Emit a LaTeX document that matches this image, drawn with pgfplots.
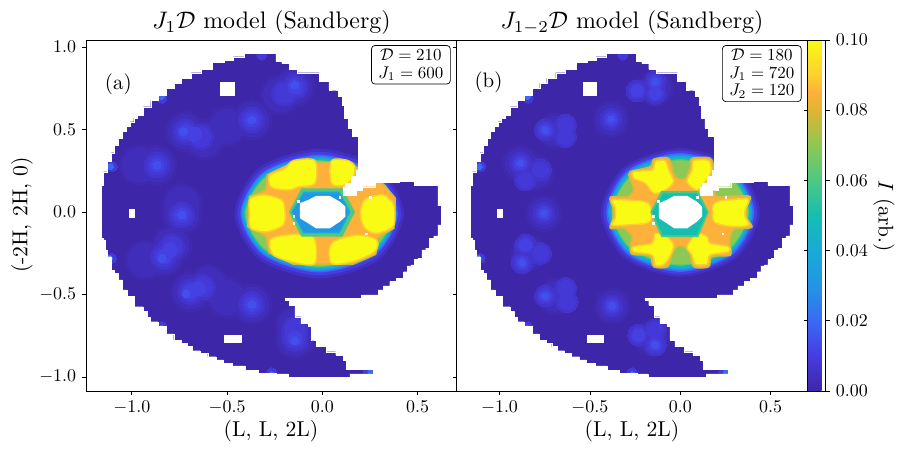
\documentclass[border=0pt]{standalone}
\usepackage{pgfplots}
\usepackage{pgfplotstable}
\pgfplotsset{compat=1.18}
\definecolor{base}{RGB}{62,38,168}
\definecolor{cA}{RGB}{65,47,191}
\definecolor{cB}{RGB}{70,60,225}
\definecolor{cC}{RGB}{58,106,245}
\definecolor{cD}{RGB}{34,150,228}
\definecolor{cE}{RGB}{24,170,216}
\definecolor{cF}{RGB}{22,190,175}
\definecolor{cG}{RGB}{78,200,130}
\definecolor{cH}{RGB}{140,200,85}
\definecolor{cO}{RGB}{205,190,55}
\definecolor{cI}{RGB}{253,176,58}
\definecolor{cK}{RGB}{252,208,46}
\definecolor{cJ}{RGB}{249,251,21}
\definecolor{bA}{RGB}{63,41,175}
\definecolor{bB}{RGB}{64,45,185}
\definecolor{bC}{RGB}{66,51,202}
\definecolor{bD}{RGB}{68,56,215}
\definecolor{bE}{RGB}{69,64,226}
\definecolor{bF}{RGB}{66,80,235}
\pgfplotsset{colormap={parulaish}{
 rgb255(0mm)=(62,38,168); rgb255(10mm)=(70,60,225); rgb255(20mm)=(58,106,245);
 rgb255(30mm)=(34,150,228); rgb255(40mm)=(24,170,216); rgb255(50mm)=(22,190,175);
 rgb255(60mm)=(78,200,130); rgb255(70mm)=(140,200,85); rgb255(80mm)=(225,180,50);
 rgb255(85mm)=(253,176,58); rgb255(90mm)=(252,208,46); rgb255(100mm)=(249,251,21)}}
\newcommand\ringS[2]{\addplot[draw=none,fill=#1,smooth cycle,forget plot] coordinates {#2};}
\newcommand\yel[1]{\addplot[draw=cK,line width=1.5bp,fill=cJ,smooth cycle,forget plot] coordinates {#1};}
\newcommand\poly[2]{\addplot[draw=none,fill=#1,forget plot] coordinates {#2};}
\newcommand\blob[3]{\addplot[only marks,color=#1,mark=*,mark size=#2,mark options={draw=#1,fill=#1,line width=0pt},forget plot] coordinates {#3};}
\newcommand\blobT[3]{\addplot[only marks,color=#1,mark=*,mark size=#2,mark options={draw=#1,fill=#1,line width=0pt},forget plot] table[x=x,y=y] {#3};}
% blob centres
\pgfplotstableread[row sep=\\]{x y\\ -0.144 0.760\\ -0.220 0.710\\ -0.370 0.558\\ -0.719 0.487\\ -0.620 0.440\\ -0.868 0.285\\ -0.960 0.285\\ -0.737 -0.018\\ -0.737 0.050\\ -0.833 -0.271\\ -0.790 -0.200\\ -0.693 -0.483\\ -0.600 -0.440\\ -0.370 -0.560\\ -0.144 -0.766\\ -0.144 -0.690\\ -0.500 0.520\\ -0.500 -0.520\\ -0.930 -0.290\\}\wideA
\pgfplotstableread[row sep=\\]{x y\\ -0.144 0.760\\ -0.200 0.720\\ -0.370 0.558\\ -0.719 0.487\\ -0.640 0.455\\ -0.868 0.285\\ -0.737 -0.018\\ -0.833 -0.271\\ -0.790 -0.210\\ -0.693 -0.483\\ -0.630 -0.455\\ -0.370 -0.560\\ -0.144 -0.766\\ -0.144 -0.710\\}\coreA
\pgfplotstableread[row sep=\\]{x y\\ -0.138 0.750\\ -0.383 0.562\\ -0.690 0.490\\ -0.884 0.295\\ -0.800 0.240\\ -0.755 -0.008\\ -0.840 -0.250\\ -0.690 -0.510\\ -0.377 -0.570\\ -0.160 -0.760\\}\wideB
\pgfplotstableread[row sep=\\]{x y\\ -0.138 0.790\\ -0.239 0.733\\ -0.138 0.719\\ -0.383 0.562\\ -0.746 0.497\\ -0.635 0.527\\ -0.635 0.457\\ -0.884 0.295\\ -0.773 0.255\\ -0.856 0.194\\ -0.755 -0.008\\ -0.875 -0.307\\ -0.856 -0.200\\ -0.773 -0.251\\ -0.746 -0.509\\ -0.635 -0.463\\ -0.626 -0.544\\ -0.377 -0.570\\ -0.138 -0.806\\ -0.230 -0.746\\ -0.138 -0.715\\}\coreB
% outside of the measured region: frame, seam and outline
\pgfplotstableread[row sep=\\]{x y\\
-1.238 0.164\\ -1.160 0.164\\ -1.139 0.244\\ -1.118 0.305\\ -1.100 0.359\\ -1.081 0.406\\ -1.060 0.447\\ -1.041 0.487\\ -1.020 0.517\\ -0.999 0.547\\ -0.982 0.568\\ -0.959 0.588\\ -0.920 0.638\\ -0.882 0.675\\ -0.842 0.709\\ -0.798 0.750\\ -0.758 0.780\\ -0.720 0.810\\ -0.659 0.844\\ -0.615 0.865\\ -0.537 0.905\\ -0.496 0.921\\ -0.437 0.941\\ -0.380 0.962\\ -0.258 0.962\\ -0.231 0.911\\ -0.196 0.901\\ -0.153 0.865\\ -0.109 0.844\\ -0.036 0.844\\ 0.004 0.790\\ 0.065 0.739\\ 0.104 0.699\\ 0.104 0.648\\ 0.127 0.568\\ 0.144 0.507\\ 0.167 0.461\\ 0.187 0.461\\ 0.187 0.255\\ 0.167 0.214\\ 0.135 0.174\\ 0.109 0.153\\ 0.109 0.103\\ 0.179 0.103\\ 0.179 0.133\\ 0.240 0.153\\ 0.318 0.178\\ 0.484 0.184\\ 0.484 0.164\\ 0.606 0.164\\ 0.606 0.042\\ 0.624 0.042\\ 0.624 -0.079\\ 0.606 -0.079\\ 0.606 -0.145\\ 0.563 -0.159\\ 0.563 -0.220\\ 0.522 -0.230\\ 0.522 -0.281\\ 0.484 -0.287\\ 0.484 -0.321\\ 0.446 -0.327\\ 0.446 -0.362\\ 0.406 -0.402\\ 0.371 -0.422\\ 0.336 -0.448\\ 0.301 -0.473\\ 0.284 -0.503\\ 0.205 -0.503\\ 0.205 -0.523\\ -0.196 -0.523\\ -0.196 -0.533\\ -0.153 -0.564\\ -0.135 -0.635\\ -0.092 -0.675\\ -0.057 -0.695\\ -0.057 -0.776\\ -0.004 -0.816\\ 0.048 -0.847\\ 0.092 -0.867\\ 0.127 -0.897\\ 0.127 -0.953\\ 0.266 -0.953\\ 0.266 -0.982\\ 0.144 -0.982\\ 0.144 -1.002\\ -0.179 -1.002\\ -0.179 -0.982\\ -0.301 -0.978\\ -0.371 -0.958\\ -0.441 -0.933\\ -0.502 -0.917\\ -0.537 -0.897\\ -0.580 -0.877\\ -0.624 -0.857\\ -0.659 -0.841\\ -0.703 -0.816\\ -0.720 -0.796\\ -0.763 -0.776\\ -0.798 -0.739\\ -0.842 -0.695\\ -0.886 -0.665\\ -0.920 -0.638\\ -0.920 -0.604\\ -0.964 -0.574\\ -1.008 -0.513\\ -1.043 -0.473\\ -1.060 -0.412\\ -1.083 -0.372\\ -1.100 -0.352\\ -1.118 -0.271\\ -1.139 -0.230\\ -1.143 -0.170\\ -1.160 -0.159\\ -1.160 0.164\\ -1.238 0.164\\ -1.238 -1.085\\ 0.704 -1.085\\ 0.704 1.042\\ -1.238 1.042\\ -1.238 0.164\\
}\maskpts
\newcommand\holes{%
 \addplot[const plot mark mid,draw=white,line width=0.3bp,fill=white,forget plot] table[x=x,y=y] {\maskpts};
 \poly{white}{(-0.537,0.790)(-0.458,0.790)(-0.458,0.703)(-0.537,0.703)}
 \poly{white}{(-0.516,-0.745)(-0.420,-0.745)(-0.420,-0.796)(-0.516,-0.796)}
 \poly{white}{(-1.013,0.018)(-0.982,0.018)(-0.982,-0.036)(-1.013,-0.036)}
 \poly{white}{(-0.034,0.097)(0.039,0.097)(0.092,0.062)(0.121,0.032)(0.121,-0.028)(0.092,-0.059)(0.039,-0.099)(-0.034,-0.099)(-0.074,-0.069)(-0.118,-0.038)(-0.118,0.053)(-0.074,0.073)}
}
\newcommand\edgespots{%
 \blob{bD}{5bp}{(-0.842,0.689)(-1.103,0.275)(-1.107,-0.281)(-0.842,-0.695)(-0.266,-0.974)(-0.318,0.951)(0.240,-0.968)}
 \blob{cC}{3bp}{(-0.845,0.700)(-1.112,0.275)(-1.117,-0.281)(-0.845,-0.705)(-0.266,-0.985)(0.255,-0.968)}
}
\pgfplotsset{panel/.style={
  anchor=south west, scale only axis, height=351bp, clip mode=individual,
  xmin=-1.238, xmax=0.704, ymin=-1.085, ymax=1.042,
  axis on top, axis background/.style={fill=base},
  xtick={-1,-0.5,0,0.5}, ytick={-1,-0.5,0,0.5,1},
  tick align=outside, tick pos=left, major tick length=4bp,
  every tick/.style={black,line width=0.8bp},
  axis line style={line width=0.9bp},
  tick label style={scale=1.8},
  x tick label style={/pgf/number format/.cd,fixed,fixed zerofill,precision=1},
  y tick label style={/pgf/number format/.cd,fixed,fixed zerofill,precision=1},
}}
\begin{document}
\begin{tikzpicture}[x=1bp,y=1bp]
\path[use as bounding box] (0,0) rectangle (899,449);
% ---------- panel a ----------
\begin{axis}[panel, at={(86.5bp,58bp)}, width=370bp]
\blobT{bA}{20bp}{\wideA}
\blobT{bB}{17bp}{\wideA}
\blobT{bC}{13bp}{\coreA}
\blobT{bD}{10bp}{\coreA}
\blob{bE}{7bp}{(-0.144,0.760)(-0.370,0.558)(-0.719,0.487)(-0.670,0.470)(-0.868,0.285)(-0.737,-0.018)(-0.833,-0.271)(-0.800,-0.230)(-0.693,-0.483)(-0.650,-0.465)(-0.370,-0.560)(-0.144,-0.766)}
\blob{bF}{4bp}{(-0.144,0.770)(-0.370,0.558)(-0.730,0.487)(-0.868,0.285)(-0.737,-0.018)(-0.840,-0.280)(-0.715,-0.495)(-0.370,-0.560)(-0.144,-0.780)}
\edgespots
\ringS{cA}{(0.428,-0.01)(0.298,0.269)(-0.017,0.384)(-0.332,0.269)(-0.462,-0.01)(-0.332,-0.289)(-0.017,-0.404)(0.298,-0.289)}
\ringS{cB}{(0.413,-0.01)(0.287,0.255)(-0.017,0.365)(-0.321,0.255)(-0.447,-0.01)(-0.321,-0.275)(-0.017,-0.385)(0.287,-0.275)}
\ringS{cC}{(0.397,-0.01)(0.276,0.242)(-0.017,0.347)(-0.310,0.242)(-0.431,-0.01)(-0.310,-0.262)(-0.017,-0.367)(0.276,-0.262)}
\ringS{cD}{(0.390,-0.01)(0.271,0.235)(-0.017,0.337)(-0.305,0.235)(-0.424,-0.01)(-0.305,-0.255)(-0.017,-0.357)(0.271,-0.255)}
\ringS{cE}{(0.383,-0.01)(0.266,0.228)(-0.017,0.327)(-0.300,0.228)(-0.417,-0.01)(-0.300,-0.248)(-0.017,-0.347)(0.266,-0.248)}
\ringS{cF}{(0.378,-0.01)(0.262,0.223)(-0.017,0.320)(-0.296,0.223)(-0.412,-0.01)(-0.296,-0.243)(-0.017,-0.340)(0.262,-0.243)}
\ringS{cG}{(0.373,-0.01)(0.259,0.219)(-0.017,0.314)(-0.293,0.219)(-0.407,-0.01)(-0.293,-0.239)(-0.017,-0.334)(0.259,-0.239)}
\ringS{cH}{(0.368,-0.01)(0.255,0.215)(-0.017,0.308)(-0.289,0.215)(-0.402,-0.01)(-0.289,-0.235)(-0.017,-0.328)(0.255,-0.235)}
\addplot[draw=cO,line width=1.5bp,fill=cI,forget plot] coordinates {(-0.161,0.300)(0.144,0.300)(0.179,0.270)(0.250,0.235)(0.327,0.160)(0.383,0.083)(0.375,-0.099)(0.292,-0.155)(0.280,-0.257)(0.161,-0.316)(-0.153,-0.316)(-0.280,-0.247)(-0.297,-0.147)(-0.392,-0.089)(-0.383,0.093)(-0.297,0.133)(-0.288,0.230)};
\yel{(-0.278,0.173)(-0.275,0.224)(-0.196,0.264)(-0.152,0.311)(-0.039,0.311)(-0.039,0.173)(-0.126,0.153)(-0.170,0.133)(-0.257,0.143)}
\yel{(0.048,0.311)(0.136,0.311)(0.170,0.274)(0.162,0.214)(0.118,0.163)(0.048,0.173)}
\yel{(-0.379,0.082)(-0.301,0.103)(-0.213,0.072)(-0.196,0.002)(-0.205,-0.079)(-0.292,-0.120)(-0.376,-0.099)(-0.383,-0.008)}
\yel{(0.205,0.032)(0.232,0.082)(0.319,0.103)(0.371,0.052)(0.380,0.002)(0.371,-0.089)(0.284,-0.130)(0.223,-0.099)(0.200,-0.029)}
\yel{(-0.275,-0.170)(-0.187,-0.140)(-0.048,-0.150)(-0.039,-0.311)(-0.144,-0.307)(-0.257,-0.261)}
\yel{(0.048,-0.190)(0.179,-0.140)(0.284,-0.170)(0.275,-0.241)(0.162,-0.301)(0.048,-0.311)}
\poly{cG}{(-0.175,0)(-0.110,0.143)(0.105,0.143)(0.171,0)(0.105,-0.150)(-0.110,-0.150)}
\poly{cE}{(-0.162,0)(-0.100,0.123)(0.090,0.123)(0.148,0)(0.090,-0.130)(-0.100,-0.130)}
\poly{cD}{(-0.157,0)(-0.095,0.109)(0.085,0.109)(0.136,0)(0.085,-0.120)(-0.095,-0.120)}
\holes
\addplot[only marks,color=white,mark=square*,mark size=0.8bp,mark options={draw=white,fill=white,line width=0pt},forget plot] coordinates {(-0.126,0.062)(-0.149,-0.029)(-0.149,-0.069)(0.092,0.089)(0.252,0.089)(0.232,-0.134)};
\node[scale=2.1] at (axis cs:-1.071,0.776) {(a)};
\node[draw,rounded corners=3.5bp,fill=white,anchor=north east,align=center,inner xsep=4.1bp,inner ysep=2bp,line width=0.7bp,scale=1.7,font=\fontsize{10}{10.4}\selectfont] at (rel axis cs:0.985,0.986) {$\mathcal{D}=210$\\$J_1=600$};
\end{axis}
% ---------- panel b ----------
\begin{axis}[panel, at={(456.5bp,58bp)}, width=351bp, yticklabels={},
  colormap name=parulaish, point meta min=0, point meta max=0.1, colorbar,
  colorbar style={at={(1,0)},anchor=south west,xshift=0pt,width=18bp,height=351bp,
   ytick={0,0.02,0.04,0.06,0.08,0.1},
   tick align=outside, major tick length=4bp,
   every tick/.style={black,line width=0.8bp},
   axis line style={line width=0.9bp},
   tick label style={scale=1.8},
   y tick label style={/pgf/number format/.cd,fixed,fixed zerofill,precision=2},
  }]
\blobT{bA}{18bp}{\wideB}
\blobT{bB}{15bp}{\wideB}
\blobT{bC}{11bp}{\coreB}
\blobT{bD}{8bp}{\coreB}
\blob{bE}{6bp}{(-0.138,0.790)(-0.239,0.733)(-0.138,0.719)(-0.383,0.562)(-0.746,0.497)(-0.884,0.295)(-0.755,-0.008)(-0.875,-0.307)(-0.856,-0.200)(-0.746,-0.509)(-0.377,-0.570)(-0.138,-0.806)(-0.230,-0.746)}
\blob{bF}{3.5bp}{(-0.138,0.790)(-0.383,0.562)(-0.746,0.497)(-0.884,0.295)(-0.755,-0.008)(-0.875,-0.307)(-0.746,-0.509)(-0.377,-0.570)(-0.138,-0.806)}
\edgespots
\ringS{cA}{(0.440,-0.003)(0.311,0.273)(0,0.387)(-0.311,0.273)(-0.440,-0.003)(-0.311,-0.279)(0,-0.393)(0.311,-0.279)}
\ringS{cB}{(0.425,-0.003)(0.300,0.262)(0,0.372)(-0.300,0.262)(-0.425,-0.003)(-0.300,-0.268)(0,-0.378)(0.300,-0.268)}
\ringS{cC}{(0.410,-0.003)(0.290,0.252)(0,0.357)(-0.290,0.252)(-0.410,-0.003)(-0.290,-0.258)(0,-0.363)(0.290,-0.258)}
\ringS{cD}{(0.400,-0.003)(0.283,0.244)(0,0.347)(-0.283,0.244)(-0.400,-0.003)(-0.283,-0.250)(0,-0.353)(0.283,-0.250)}
\ringS{cE}{(0.393,-0.003)(0.278,0.237)(0,0.337)(-0.278,0.237)(-0.393,-0.003)(-0.278,-0.243)(0,-0.343)(0.278,-0.243)}
\ringS{cF}{(0.385,-0.003)(0.272,0.230)(0,0.327)(-0.272,0.230)(-0.385,-0.003)(-0.272,-0.236)(0,-0.333)(0.272,-0.236)}
\ringS{cG}{(0.380,-0.003)(0.269,0.225)(0,0.319)(-0.269,0.225)(-0.380,-0.003)(-0.269,-0.231)(0,-0.325)(0.269,-0.231)}
\ringS{cH}{(0.375,-0.003)(0.265,0.220)(0,0.313)(-0.265,0.220)(-0.375,-0.003)(-0.265,-0.226)(0,-0.319)(0.265,-0.226)}
\addplot[draw=cO,line width=1.5bp,fill=cI,smooth cycle,forget plot] coordinates {(-0.276,0.244)(-0.166,0.274)(-0.147,0.319)(-0.064,0.325)(-0.037,0.234)(-0.015,0.204)(0.028,0.204)(0.055,0.274)(0.065,0.325)(0.166,0.325)(0.184,0.254)(0.194,0.103)(0.295,0.097)(0.387,0.093)(0.369,0.032)(0.369,-0.039)(0.396,-0.093)(0.295,-0.109)(0.273,-0.190)(0.277,-0.261)(0.175,-0.271)(0.157,-0.332)(0.074,-0.332)(0.052,-0.251)(0.019,-0.210)(-0.018,-0.210)(-0.046,-0.261)(-0.070,-0.332)(-0.147,-0.332)(-0.169,-0.267)(-0.267,-0.255)(-0.276,-0.200)(-0.267,-0.150)(-0.313,-0.099)(-0.387,-0.099)(-0.372,-0.039)(-0.372,0.022)(-0.387,0.089)(-0.294,0.093)(-0.258,0.133)(-0.280,0.204)};
\yel{(-0.258,0.244)(-0.156,0.254)(-0.138,0.305)(-0.083,0.311)(-0.064,0.254)(-0.037,0.183)(-0.083,0.133)(-0.147,0.113)(-0.193,0.173)(-0.258,0.204)}
\yel{(0.074,0.311)(0.157,0.311)(0.170,0.244)(0.138,0.183)(0.092,0.133)(0.037,0.183)(0.065,0.254)}
\yel{(-0.377,0.072)(-0.294,0.072)(-0.175,0.052)(-0.169,-0.059)(-0.294,-0.079)(-0.377,-0.079)(-0.359,-0.033)(-0.359,0.022)}
\yel{(0.188,0.052)(0.295,0.076)(0.378,0.076)(0.359,0.012)(0.359,-0.029)(0.378,-0.079)(0.295,-0.089)(0.188,-0.059)}
\yel{(-0.258,-0.210)(-0.156,-0.190)(-0.138,-0.130)(-0.073,-0.150)(-0.037,-0.210)(-0.083,-0.311)(-0.138,-0.322)(-0.156,-0.261)(-0.258,-0.241)}
\yel{(0.037,-0.210)(0.092,-0.130)(0.148,-0.150)(0.166,-0.190)(0.267,-0.210)(0.267,-0.241)(0.166,-0.261)(0.148,-0.316)(0.083,-0.316)(0.065,-0.261)}
\poly{cG}{(-0.166,0)(-0.105,0.127)(0.100,0.127)(0.158,0)(0.100,-0.152)(-0.105,-0.152)}
\poly{cF}{(-0.156,0)(-0.095,0.113)(0.090,0.113)(0.148,0)(0.090,-0.140)(-0.095,-0.140)}
\holes
\addplot[only marks,color=white,mark=square*,mark size=0.8bp,mark options={draw=white,fill=white,line width=0pt},forget plot] coordinates {(-0.119,0.062)(-0.147,-0.029)(-0.147,-0.069)(0.096,0.089)(0.254,0.089)(0.236,-0.134)};
\node[scale=2.1] at (axis cs:-1.061,0.788) {(b)};
\node[draw,rounded corners=3.5bp,fill=white,anchor=north east,align=center,inner xsep=4.1bp,inner ysep=2bp,line width=0.7bp,scale=1.7,font=\fontsize{10}{10.4}\selectfont] at (rel axis cs:0.984,0.986) {$\mathcal{D}=180$\\$J_1=720$\\$J_2=120$};
\end{axis}
% ---------- titles and labels ----------
\node[anchor=base,scale=2.4] at (271.5,420) {$J_1\mathcal{D}$ model (Sandberg)};
\node[anchor=base,scale=2.4] at (632,420) {$J_{1-2}\mathcal{D}$ model (Sandberg)};
\node[scale=2.17] at (271,18) {(L, L, 2L)};
\node[scale=2.17] at (632,18) {(L, L, 2L)};
\node[rotate=90,scale=2.17] at (22,234) {(-2H, 2H, 0)};
\node[rotate=-90,scale=2.14] at (884,233) {$I$ (arb.)};
\end{tikzpicture}
\end{document}
